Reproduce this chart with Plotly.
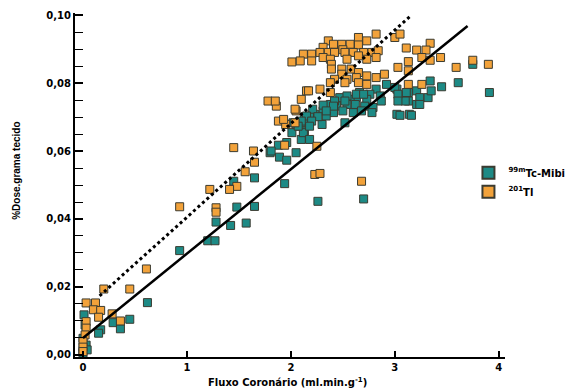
import plotly.graph_objects as go

# Tc-99m MIBI (teal)
teal_x = [0.01, 0.02, 0.00, 0.03, 0.00, 0.00, 0.04, 0.62, 0.45, 0.29, 0.36, 0.17, 0.15,
          1.45, 1.65, 1.80, 1.88, 1.89, 1.96, 2.05, 2.05, 1.94, 1.48, 1.65, 1.28, 1.42, 1.57, 1.20, 1.27, 0.93,
          2.10, 2.13, 2.01, 2.10, 1.96, 1.81,
          2.92, 3.02, 3.13, 3.21, 3.05, 3.13, 3.21, 3.02, 3.14,
          2.82, 2.76, 2.86, 2.73, 2.66, 2.63, 2.57, 2.47, 2.54, 2.62,
          2.71, 2.79, 2.44, 2.38, 2.50, 2.60, 2.68, 2.31, 2.41, 2.23,
          2.34, 2.18, 2.13, 2.52, 2.30, 2.02, 2.12, 2.18, 2.26, 2.70,
          2.54, 2.63, 2.70, 2.42, 2.52, 2.31, 2.41, 2.21, 2.34, 2.15, 2.26, 2.10, 2.20, 2.07, 2.18,
          3.34, 3.45, 3.61, 3.91, 3.75, 3.11, 3.10, 3.24, 3.32, 3.35, 3.24, 3.16, 3.05, 3.00, 3.03, 3.03, 2.87, 2.78]
teal_y = [0.0118, 0.0088, 0.0049, 0.0029, 0.0015, 0.0005, 0.0015, 0.0154, 0.0105, 0.0095, 0.0077, 0.0074, 0.0064,
          0.0511, 0.0521, 0.0595, 0.0617, 0.0582, 0.0573, 0.0595, 0.0673, 0.0504, 0.0435, 0.0437, 0.0391, 0.0381, 0.0388, 0.0336, 0.0336, 0.0307,
          0.0683, 0.0659, 0.0654, 0.0634, 0.0625, 0.0600,
          0.0796, 0.0782, 0.0772, 0.0777, 0.0762, 0.0747, 0.0737, 0.0708, 0.0708,
          0.0782, 0.0767, 0.0762, 0.0752, 0.0772, 0.0757, 0.0752, 0.0757, 0.0737, 0.0737,
          0.0732, 0.0728, 0.0732, 0.0737, 0.0718, 0.0713, 0.0718, 0.0718, 0.0713, 0.0708,
          0.0703, 0.0703, 0.0693, 0.0683, 0.0678, 0.0683, 0.0654, 0.0634, 0.0452, 0.0459,
          0.0762, 0.0767, 0.0767, 0.0747, 0.0747, 0.0735, 0.0732, 0.0723, 0.0718, 0.0703, 0.0701, 0.0688, 0.0688, 0.0673, 0.0673,
          0.0806, 0.0789, 0.0801, 0.0772, 0.0855, 0.0772, 0.0747, 0.0757, 0.0757, 0.0777, 0.0737, 0.0705, 0.0705, 0.0787, 0.0767, 0.0747, 0.0747, 0.0713]

# Tl-201 (orange)
orange_x = [0.61, 0.20, 0.45, 0.03, 0.12, 0.10, 0.17, 0.28, 0.15, 0.36, 0.03, 0.03, 0.02, 0.00, 0.00, 0.00,
            1.45, 1.64, 1.88, 1.95, 1.94, 1.65, 1.56, 1.48, 1.41, 1.22, 1.28, 1.28, 0.93,
            1.78, 1.86, 2.10, 2.05, 2.15,
            2.17, 2.28, 2.38, 2.25, 2.23, 2.28, 2.68,
            2.65, 2.82, 2.36, 2.41, 2.49, 2.57, 2.31, 2.50, 2.65, 2.73,
            2.12, 2.20, 2.28, 2.36, 2.42, 2.52, 2.60, 2.70, 2.78,
            2.01, 2.09, 2.20, 2.31, 2.38, 2.54, 2.65, 2.73,
            2.39, 2.39, 2.49, 2.58, 2.49, 2.65,
            2.42, 2.54, 2.63, 2.73, 2.82,
            2.38, 2.52, 2.65, 2.73,
            1.85, 2.04, 1.93, 2.04,
            3.00, 3.05, 3.34, 3.11, 3.21, 3.30, 3.26, 3.34, 3.44, 2.84,
            2.82, 3.13, 3.03, 3.13, 3.59, 3.75, 3.90, 2.90, 3.13, 3.26]
orange_y = [0.0253, 0.0194, 0.0194, 0.0153, 0.0153, 0.0133, 0.0131, 0.0121, 0.0111, 0.0100, 0.0098, 0.0079, 0.0059, 0.0039, 0.0023, 0.0010,
            0.0610, 0.0600, 0.0688, 0.0678, 0.0617, 0.0567, 0.0539, 0.0496, 0.0487, 0.0487, 0.0433, 0.0420, 0.0436,
            0.0747, 0.0732, 0.0752, 0.0718, 0.0777,
            0.0777, 0.0782, 0.0772, 0.0614, 0.0531, 0.0534, 0.0511,
            0.0934, 0.0944, 0.0924, 0.0914, 0.0914, 0.0914, 0.0905, 0.0898, 0.0912, 0.0924,
            0.0885, 0.0885, 0.0890, 0.0890, 0.0890, 0.0890, 0.0890, 0.0890, 0.0890,
            0.0862, 0.0865, 0.0865, 0.0875, 0.0870, 0.0870, 0.0880, 0.0870,
            0.0855, 0.0841, 0.0841, 0.0841, 0.0826, 0.0831,
            0.0811, 0.0811, 0.0816, 0.0821, 0.0816,
            0.0801, 0.0801, 0.0801, 0.0796,
            0.0747, 0.0723, 0.0693, 0.0683,
            0.0934, 0.0944, 0.0917, 0.0903, 0.0897, 0.0897, 0.0875, 0.0867, 0.0875, 0.0895,
            0.0875, 0.0863, 0.0846, 0.0836, 0.0846, 0.0867, 0.0855, 0.0826, 0.0796, 0.0796]

# Regression lines (endpoints)
solid_x = [0.0, 3.70]
solid_y = [0.0050, 0.0968]
dotted_x = [0.16, 3.16]
dotted_y = [0.0174, 0.1000]

x_ticks = [0, 1, 2, 3, 4]
x_ticktext = ["0", "1", "2", "3", "4"]
y_ticks = [0.00, 0.02, 0.04, 0.06, 0.08, 0.10]
y_ticktext = ["0,00", "0,02", "0,04", "0,06", "0,08", "0,10"]

TEAL = "#1d8a85"
ORANGE = "#f2a23a"
EDGE = "#3b3b30"
FONT = "DejaVu Sans"

fig = go.Figure()
fig.add_trace(go.Scatter(
    x=teal_x, y=teal_y, mode="markers", name="<sup>99m</sup>Tc-Mibi",
    marker=dict(symbol="square", size=8, color=TEAL, line=dict(color=EDGE, width=1)),
))
fig.add_trace(go.Scatter(
    x=orange_x, y=orange_y, mode="markers", name="<sup>201</sup>Tl",
    marker=dict(symbol="square", size=8, color=ORANGE, line=dict(color=EDGE, width=1)),
))
fig.add_trace(go.Scatter(
    x=solid_x, y=solid_y, mode="lines", showlegend=False,
    line=dict(color="black", width=2.5),
))
fig.add_trace(go.Scatter(
    x=dotted_x, y=dotted_y, mode="lines", showlegend=False,
    line=dict(color="black", width=3, dash="dot"),
))

fig.update_layout(
    width=568, height=380,
    margin=dict(l=67, r=71, t=5, b=31, autoexpand=False),
    paper_bgcolor="white", plot_bgcolor="white",
    font=dict(family=FONT, size=10, color="black"),
    showlegend=True,
    legend=dict(
        x=0.915, y=0.578, xanchor="left", yanchor="top",
        font=dict(family=FONT, size=10, color="black", weight="bold"),
        itemsizing="constant", bgcolor="rgba(0,0,0,0)", tracegroupgap=0,
    ),
    xaxis=dict(
        range=[-0.077, 4.06], tickvals=x_ticks, ticktext=x_ticktext,
        ticks="inside", ticklen=6, tickwidth=1.5, tickcolor="black",
        showline=True, linewidth=2, linecolor="black",
        showgrid=False, zeroline=False, automargin=False,
        tickfont=dict(family=FONT, size=10, weight="bold"),
    ),
    yaxis=dict(
        range=[-0.0006, 0.1006], tickvals=y_ticks, ticktext=y_ticktext,
        ticks="inside", ticklen=8, tickwidth=1.5, tickcolor="black",
        minor=dict(dtick=0.005, tick0=0, ticks="inside", ticklen=8, tickwidth=1.2, tickcolor="black"),
        showline=True, linewidth=2, linecolor="black",
        showgrid=False, zeroline=False, automargin=False,
        tickfont=dict(family=FONT, size=10, weight="bold"),
    ),
    annotations=[
        dict(text="Fluxo Coronário (ml.min.g<sup>-1</sup>)", xref="paper", yref="paper",
             x=0.494, y=-0.072, xanchor="center", yanchor="middle", showarrow=False,
             font=dict(family=FONT, size=10, weight="bold")),
        dict(text="%Dose.grama tecido", xref="paper", yref="paper",
             x=-0.135, y=0.541, xanchor="center", yanchor="middle", showarrow=False,
             textangle=-90, font=dict(family="Liberation Sans", size=10, weight="bold")),
    ],
)

fig.write_html("out.html")
